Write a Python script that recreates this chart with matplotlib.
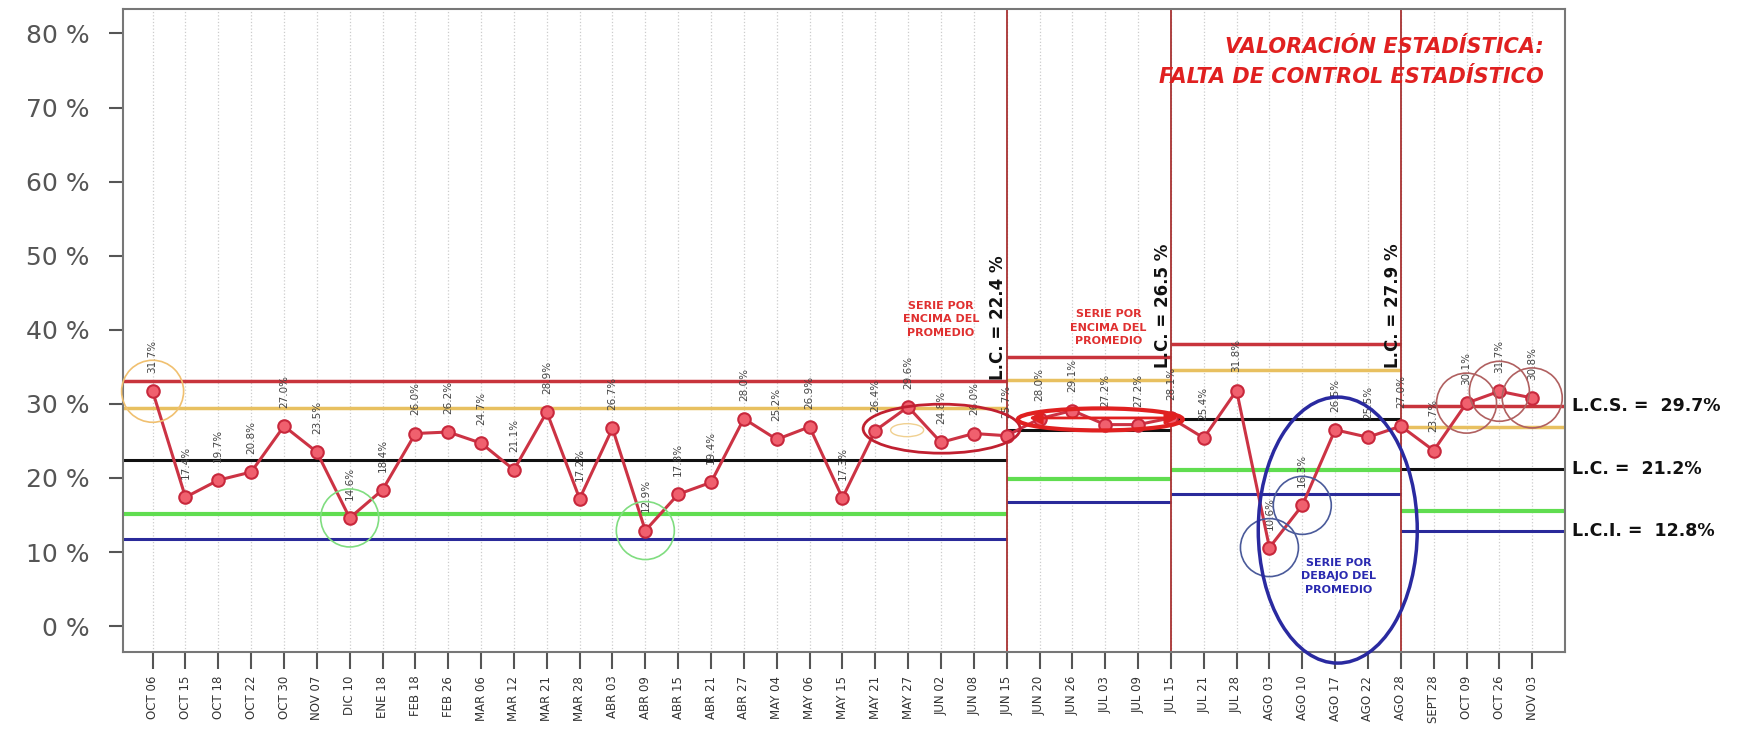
import numpy as np
import matplotlib
matplotlib.use('Agg')
import matplotlib.pyplot as plt
from matplotlib.patches import Ellipse, FancyArrowPatch

fechas = ['OCT 06', 'OCT 15', 'OCT 18', 'OCT 22', 'OCT 30', 'NOV 07', 'DIC 10',
          'ENE 18', 'FEB 18', 'FEB 26', 'MAR 06', 'MAR 12', 'MAR 21', 'MAR 28',
          'ABR 03', 'ABR 09', 'ABR 15', 'ABR 21', 'ABR 27', 'MAY 04', 'MAY 06',
          'MAY 15', 'MAY 21', 'MAY 27', 'JUN 02', 'JUN 08', 'JUN 15', 'JUN 20',
          'JUN 26', 'JUL 03', 'JUL 09', 'JUL 15', 'JUL 21', 'JUL 28', 'AGO 03',
          'AGO 10', 'AGO 17', 'AGO 22', 'AGO 28', 'SEPT 28', 'OCT 09', 'OCT 26',
          'NOV 03']
valores = [31.7, 17.4, 19.7, 20.8, 27.0, 23.5, 14.6, 18.4, 26.0, 26.2, 24.7,
           21.1, 28.9, 17.2, 26.7, 12.9, 17.8, 19.4, 28.0, 25.2, 26.9, 17.3,
           26.4, 29.6, 24.8, 26.0, 25.7, 28.0, 29.1, 27.2, 27.2, 28.1, 25.4,
           31.8, 10.6, 16.3, 26.5, 25.5, 27.0, 23.7, 30.1, 31.7, 30.8]

# fases: indice de inicio / fin, limites
fase_ini = [None, 26, 31, 38]
fase_fin = [26, 31, 38, None]
lcs = [33.1, 36.3, 38.1, 29.7]
sup2 = [29.5, 33.2, 34.6, 26.9]
lc = [22.4, 26.5, 27.9, 21.2]
inf2 = [15.2, 19.8, 21.1, 15.5]
lci = [11.7, 16.7, 17.8, 12.8]

# puntos marcados con circulos
circ_naranja = [0]
circ_verde = [6, 15]
circ_azul = [34, 35]
circ_marron = [40, 41, 42]

fig = plt.figure(figsize=(17.38, 7.31), dpi=100)
ax = fig.add_axes([0.0708, 0.108, 0.8297, 0.8797])
x = np.arange(len(fechas))
xmin, xmax = -0.9, 43.0
ax.set_xlim(xmin, xmax)
ax.set_ylim(-3.5, 83.3)

# pixel -> data scale (for round circles)
px_x = (xmax - xmin) / (0.8297 * 1738)
px_y = (83.3 + 3.5) / (0.8797 * 731)

ax.grid(axis='x', color='#cccccc', ls=':', lw=0.9)

for i in range(4):
    a = xmin if fase_ini[i] is None else fase_ini[i]
    b = xmax if fase_fin[i] is None else fase_fin[i]
    ax.hlines(lcs[i], a, b, color='#c8343c', lw=2.5, zorder=2)
    ax.hlines(sup2[i], a, b, color='#e8c060', lw=2.5, zorder=2)
    ax.hlines(lc[i], a, b, color='#111111', lw=2.2, zorder=2)
    ax.hlines(inf2[i], a, b, color='#60dd50', lw=3, zorder=2)
    ax.hlines(lci[i], a, b, color='#2a2a9a', lw=2.2, zorder=2)

for xb in [26, 31, 38]:
    ax.axvline(xb, color='#a83232', lw=1.3, zorder=2)

ax.plot(x, valores, color='#cc3344', lw=2.2, marker='o', ms=9,
        mfc='#f0606e', mec='#c8283c', mew=1.5, zorder=5)

for xi, v in zip(x, valores):
    ax.annotate('%.1f%%' % v, (xi, v), xytext=(0, 13), textcoords='offset points',
                rotation=90, ha='center', va='bottom', fontsize=7.5, color='#444444')

def circ(xc, yc, w, h, color, lw):
    ax.add_patch(Ellipse((xc, yc), w * px_x, h * px_y, fill=False,
                         ec=color, lw=lw, zorder=6, clip_on=False))

for i in circ_naranja:
    circ(i, valores[i], 62, 62, '#f0c070', 1.2)
for i in circ_verde:
    circ(i, valores[i], 58, 58, '#80dd80', 1.2)
for i in circ_azul:
    circ(i, valores[i], 58, 58, '#4a5a9a', 1.2)
for i in circ_marron:
    circ(i, valores[i], 60, 60, '#b06060', 1.2)

circ(24.02, 26.65, 157, 49, '#c02030', 2)
circ(22.97, 26.45, 33, 13, '#f0d090', 1)
circ(28.85, 27.9, 165, 22, '#e02020', 3)
circ(36.08, 12.96, 159, 266, '#2a2aa0', 2.5)

ax.add_patch(FancyArrowPatch((26.6, 28.1), (31.3, 28.1), arrowstyle='<|-|>',
                             mutation_scale=18, color='#e02020', lw=2, zorder=6))

ax.text(24.0, 41.4, 'SERIE POR\nENCIMA DEL\nPROMEDIO', color='#e03030', fontsize=8,
        fontweight='bold', ha='center', va='center', linespacing=1.4)
ax.text(29.1, 40.3, 'SERIE POR\nENCIMA DEL\nPROMEDIO', color='#e03030', fontsize=8,
        fontweight='bold', ha='center', va='center', linespacing=1.4)
ax.text(36.1, 6.7, 'SERIE POR\nDEBAJO DEL\nPROMEDIO', color='#2a2ab0', fontsize=8,
        fontweight='bold', ha='center', va='center', linespacing=1.4)

for xb, y0, v in [(25.75, 33.2, lc[0]), (30.75, 34.8, lc[1]), (37.75, 34.8, lc[2])]:
    ax.text(xb, y0, 'L.C. = %.1f %%' % v, rotation=90, ha='center', va='bottom',
            fontsize=12, fontweight='bold', color='#111111')

tr = ax.get_yaxis_transform()
ax.text(1.005, lcs[3], 'L.C.S. =  %.1f%%' % lcs[3], transform=tr, va='center',
        fontsize=12.5, fontweight='bold', color='#111111')
ax.text(1.005, lc[3], 'L.C. =  %.1f%%' % lc[3], transform=tr, va='center',
        fontsize=12.5, fontweight='bold', color='#111111')
ax.text(1.005, lci[3], 'L.C.I. =  %.1f%%' % lci[3], transform=tr, va='center',
        fontsize=12.5, fontweight='bold', color='#111111')

ax.text(0.985, 0.941, 'VALORACIÓN ESTADÍSTICA:', transform=ax.transAxes,
        ha='right', va='center', fontsize=15, fontweight='bold', style='italic',
        color='#e02020')
ax.text(0.985, 0.894, 'FALTA DE CONTROL ESTADÍSTICO', transform=ax.transAxes,
        ha='right', va='center', fontsize=15, fontweight='bold', style='italic',
        color='#e02020')

ax.set_xticks(x)
ax.set_xticklabels(fechas, rotation=90, fontsize=8.5, color='#333333')
ax.set_yticks(range(0, 81, 10))
ax.set_yticklabels(['%d %%' % t for t in range(0, 81, 10)], fontsize=18, color='#555555')
ax.tick_params(axis='x', length=12, width=1.5, color='#555555', pad=5)
ax.tick_params(axis='y', length=10, width=1.5, color='#555555', pad=14)
for s in ax.spines.values():
    s.set_color('#777777')
    s.set_linewidth(1.5)

fig.savefig('out.png', dpi=100)
